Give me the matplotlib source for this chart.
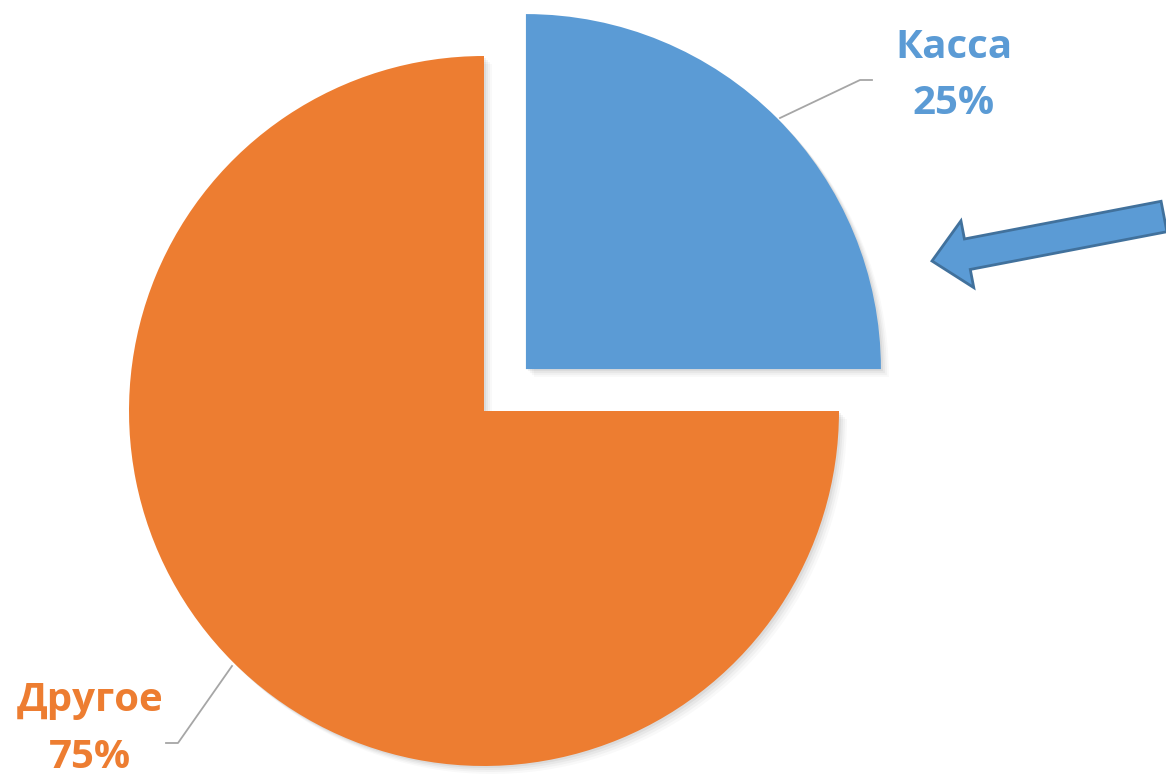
import matplotlib
matplotlib.use("Agg")
import matplotlib.pyplot as plt
from matplotlib.patches import FancyArrow, Wedge
import numpy as np

# Data
categories = ["Касса", "Другое"]
values = [25, 75]
colors = ["#5B9BD5", "#ED7D31"]
explode_frac = [0.167, 0]

W, H = 1166, 776
fig = plt.figure(figsize=(W / 100, H / 100), dpi=100)
ax = fig.add_axes([0, 0, 1, 1])
ax.set_xlim(0, W)
ax.set_ylim(0, H)
ax.set_aspect("equal")
ax.axis("off")

cx, cy, R = 484, 776 - 411, 355
explode = [e * R for e in explode_frac]

# soft shadow layers
total = sum(values)
ang = 90.0
for v, ex in zip(values, explode):
    theta2 = ang
    theta1 = ang - 360.0 * v / total
    mid = np.deg2rad((theta1 + theta2) / 2)
    ox, oy = cx + ex * np.cos(mid), cy + ex * np.sin(mid)
    for k, a in [(8, 0.025), (6, 0.03), (4, 0.04), (2, 0.05)]:
        ax.add_patch(Wedge((ox + k, oy - k), R, theta1, theta2, facecolor="black",
                           edgecolor="none", alpha=a, zorder=1))
    ang = theta1

wedges, _ = ax.pie(values, colors=colors, startangle=90, counterclock=False,
                   explode=explode, radius=R, center=(cx, cy), frame=True,
                   wedgeprops=dict(edgecolor="none"))
for w in wedges:
    w.set_zorder(2)
ax.set_xlim(0, W)
ax.set_ylim(0, H)
ax.axis("off")

font = dict(family="Open Sans", fontweight="bold", fontsize=29)
# Labels
ax.plot([780, 860, 872], [H - 118, H - 80, H - 80], color="#A6A6A6", lw=1.3, zorder=3)
ax.text(954, H - 47, f"{categories[0]}", color=colors[0], ha="center", va="center", **font)
ax.text(954, H - 104, f"{values[0]}%", color=colors[0], ha="center", va="center", **font)

ax.plot([232, 178, 166], [H - 666, H - 743, H - 743], color="#A6A6A6", lw=1.3, zorder=3)
ax.text(90, H - 700, f"{categories[1]}", color=colors[1], ha="center", va="center", **font)
ax.text(90, H - 757, f"{values[1]}%", color=colors[1], ha="center", va="center", **font)

# Arrow
x0, y0 = 1164, H - 216.5
x1, y1 = 932, H - 261
arrow = FancyArrow(x0, y0, x1 - x0, y1 - y0, width=31, head_width=68, head_length=36,
                   length_includes_head=True, facecolor="#5B9BD5", edgecolor="#41719C",
                   lw=2, zorder=4, clip_on=False)
ax.add_patch(arrow)

fig.savefig("out.png", dpi=100, facecolor="white")
